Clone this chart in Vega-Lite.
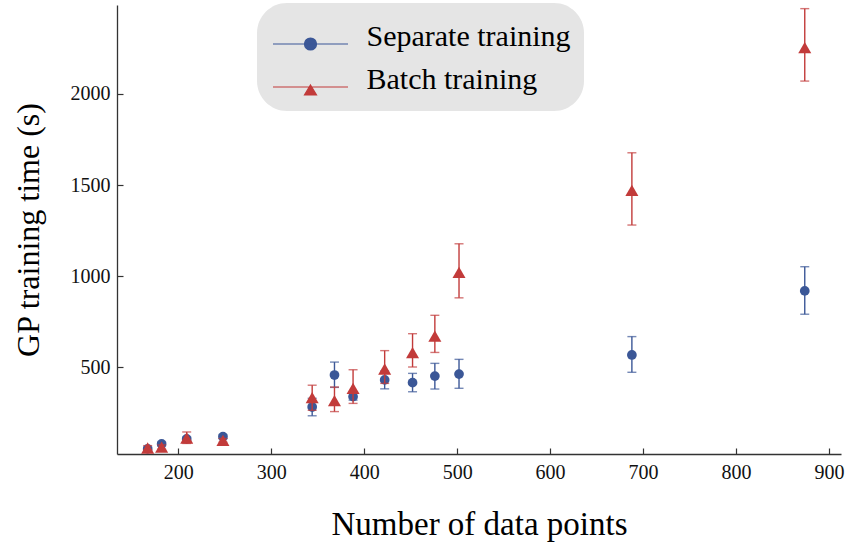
{
  "$schema": "https://vega.github.io/schema/vega-lite/v6.json",
  "width": 724,
  "height": 449,
  "autosize": {"type": "none"},
  "padding": {"left": 117, "top": 5, "right": 6, "bottom": 92},
  "background": "white",
  "config": {
    "view": {"stroke": null},
    "font": "Liberation Serif",
    "axis": {
      "grid": false,
      "domainColor": "#333333",
      "domainWidth": 1.3,
      "tickColor": "#333333",
      "tickWidth": 1.2,
      "tickSize": -6,
      "labelFont": "Liberation Serif",
      "labelFontSize": 20,
      "labelColor": "#111111",
      "titleFont": "Liberation Serif",
      "titleFontSize": 32,
      "titleFontWeight": "normal",
      "titleColor": "#000000"
    }
  },
  "data": {
    "values": [
      {"series": "Separate training", "n": 167, "t": 50, "lo": 40, "hi": 60},
      {"series": "Separate training", "n": 182, "t": 77, "lo": 67, "hi": 87},
      {"series": "Separate training", "n": 209, "t": 105, "lo": 95, "hi": 115},
      {"series": "Separate training", "n": 248, "t": 117, "lo": 107, "hi": 127},
      {"series": "Separate training", "n": 344, "t": 280, "lo": 232, "hi": 328},
      {"series": "Separate training", "n": 368, "t": 456, "lo": 388, "hi": 527},
      {"series": "Separate training", "n": 388, "t": 337, "lo": 318, "hi": 356},
      {"series": "Separate training", "n": 422, "t": 429, "lo": 380, "hi": 478},
      {"series": "Separate training", "n": 452, "t": 414, "lo": 364, "hi": 465},
      {"series": "Separate training", "n": 476, "t": 450, "lo": 379, "hi": 520},
      {"series": "Separate training", "n": 502, "t": 461, "lo": 383, "hi": 542},
      {"series": "Separate training", "n": 688, "t": 566, "lo": 471, "hi": 667},
      {"series": "Separate training", "n": 874, "t": 918, "lo": 790, "hi": 1051},
      {"series": "Batch training", "n": 167, "t": 55, "lo": 45, "hi": 68},
      {"series": "Batch training", "n": 182, "t": 60, "lo": 48, "hi": 72},
      {"series": "Batch training", "n": 209, "t": 110, "lo": 80, "hi": 143},
      {"series": "Batch training", "n": 248, "t": 97, "lo": 87, "hi": 107},
      {"series": "Batch training", "n": 344, "t": 332, "lo": 262, "hi": 400},
      {"series": "Batch training", "n": 368, "t": 315, "lo": 255, "hi": 390},
      {"series": "Batch training", "n": 388, "t": 383, "lo": 300, "hi": 485},
      {"series": "Batch training", "n": 422, "t": 489, "lo": 410, "hi": 590},
      {"series": "Batch training", "n": 452, "t": 579, "lo": 500, "hi": 683},
      {"series": "Batch training", "n": 476, "t": 670, "lo": 580, "hi": 784},
      {"series": "Batch training", "n": 502, "t": 1020, "lo": 880, "hi": 1177},
      {"series": "Batch training", "n": 688, "t": 1470, "lo": 1280, "hi": 1677},
      {"series": "Batch training", "n": 874, "t": 2255, "lo": 2071, "hi": 2469}
    ]
  },
  "layer": [
    {
      "transform": [{"filter": "datum.series === 'Separate training'"}],
      "mark": {"type": "errorbar", "ticks": {"size": 9}, "thickness": 1.4},
      "encoding": {
        "x": {"field": "n", "type": "quantitative"},
        "y": {"field": "lo", "type": "quantitative"},
        "y2": {"field": "hi"},
        "color": {"field": "series", "type": "nominal"}
      }
    },
    {
      "transform": [{"filter": "datum.series === 'Separate training'"}],
      "mark": {"type": "point", "filled": true, "opacity": 1, "shape": "circle", "size": 95},
      "encoding": {
        "x": {"field": "n", "type": "quantitative"},
        "y": {"field": "t", "type": "quantitative"},
        "color": {"field": "series", "type": "nominal"}
      }
    },
    {
      "transform": [{"filter": "datum.series === 'Batch training'"}],
      "mark": {"type": "errorbar", "ticks": {"size": 9}, "thickness": 1.4},
      "encoding": {
        "x": {"field": "n", "type": "quantitative"},
        "y": {"field": "lo", "type": "quantitative"},
        "y2": {"field": "hi"},
        "color": {"field": "series", "type": "nominal"}
      }
    },
    {
      "transform": [{"filter": "datum.series === 'Batch training'"}],
      "mark": {"type": "point", "filled": true, "opacity": 1, "shape": "triangle-up", "size": 170},
      "encoding": {
        "x": {"field": "n", "type": "quantitative"},
        "y": {"field": "t", "type": "quantitative"},
        "color": {"field": "series", "type": "nominal"}
      }
    }
  ],
  "resolve": {"scale": {"color": "shared"}},
  "encoding": {
    "x": {
      "field": "n",
      "type": "quantitative",
      "title": "Number of data points",
      "scale": {"domain": [134, 913], "nice": false, "zero": false},
      "axis": {"values": [200, 300, 400, 500, 600, 700, 800, 900], "format": "d", "labelPadding": 14, "titlePadding": 26, "titleFontSize": 33}
    },
    "y": {
      "field": "t",
      "type": "quantitative",
      "title": "GP training time (s)",
      "scale": {"domain": [22, 2489], "nice": false, "zero": false},
      "axis": {"values": [500, 1000, 1500, 2000], "format": "d", "labelPadding": 13, "titlePadding": 25}
    },
    "color": {
      "field": "series",
      "type": "nominal",
      "scale": {"domain": ["Separate training", "Batch training"], "range": ["#3B5797", "#C23B3A"]},
      "legend": {
        "orient": "none",
        "legendX": 140,
        "legendY": -2,
        "title": " ",
        "titleFontSize": 10,
        "titlePadding": 3,
        "fillColor": "#e5e5e5",
        "cornerRadius": 30,
        "padding": 13,
        "labelFont": "Liberation Serif",
        "labelFontSize": 30,
        "labelColor": "#000000",
        "labelBaseline": "alphabetic",
        "labelLimit": 400,
        "symbolSize": 144,
        "symbolStrokeWidth": 1.2,
        "symbolOffset": 25.5,
        "labelOffset": 41,
        "rowPadding": 12,
        "encode": {
          "labels": {"update": {"dy": {"value": 2}}},
          "symbols": {
            "update": {
              "shape": {"signal": "datum.value === 'Separate training' ? 'M-6.25,0H6.25M-1,0A1,1 0 1,0 1,0A1,1 0 1,0 -1,0' : 'M-6.25,0H6.25M0,-0.33L1,1.33L-1,1.33Z'"},
              "stroke": {"scale": "color", "field": "value"},
              "fill": {"scale": "color", "field": "value"},
              "opacity": {"value": 1}
            }
          }
        }
      }
    }
  }
}
